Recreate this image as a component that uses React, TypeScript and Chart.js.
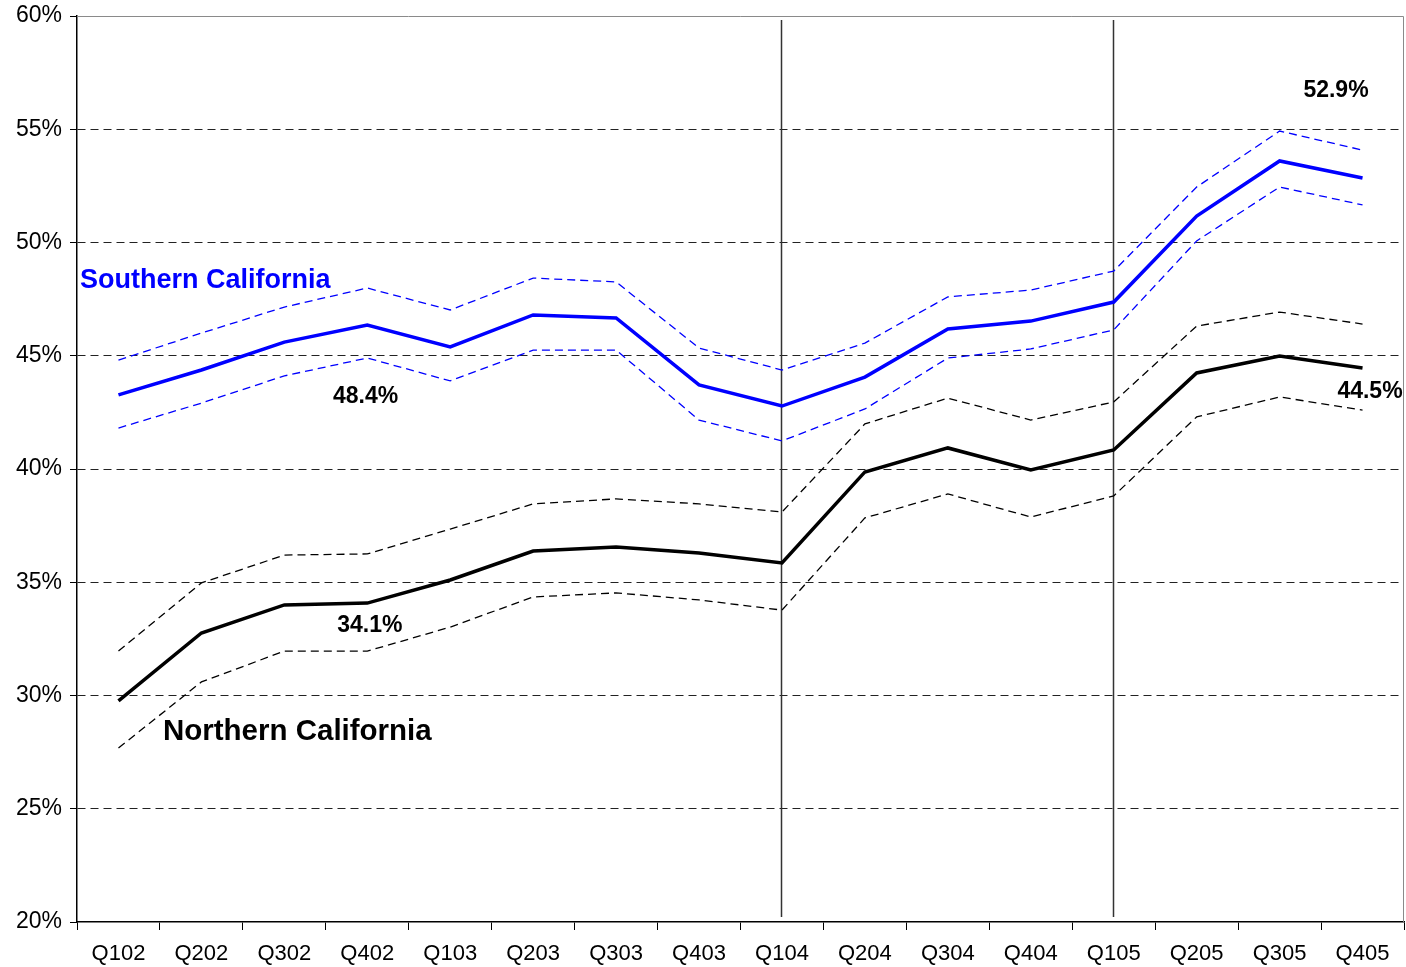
import React, { useEffect, useRef } from "react";
import { Chart, registerables } from "chart.js";

Chart.register(...registerables);

const categories = ["Q102", "Q202", "Q302", "Q402", "Q103", "Q203", "Q303", "Q403", "Q104", "Q204", "Q304", "Q404", "Q105", "Q205", "Q305", "Q405"];

const southern = [43.27, 44.37, 45.6, 46.36, 45.39, 46.8, 46.67, 43.71, 42.78, 44.06, 46.18, 46.53, 47.37, 51.17, 53.6, 52.85];
const southernUpper = [44.81, 46.0, 47.15, 47.99, 47.02, 48.43, 48.26, 45.34, 44.37, 45.56, 47.6, 47.9, 48.74, 52.45, 54.92, 54.08];
const southernLower = [41.81, 42.91, 44.11, 44.9, 43.89, 45.25, 45.25, 42.16, 41.24, 42.65, 44.9, 45.3, 46.14, 50.07, 52.45, 51.66];

const northern = [29.76, 32.76, 34.0, 34.08, 35.1, 36.38, 36.56, 36.29, 35.85, 39.87, 40.93, 39.96, 40.84, 44.24, 44.99, 44.46];
const northernUpper = [31.96, 34.97, 36.2, 36.25, 37.35, 38.46, 38.68, 38.46, 38.1, 41.99, 43.13, 42.16, 42.96, 46.31, 46.93, 46.4];
const northernLower = [27.68, 30.6, 31.96, 31.96, 33.02, 34.35, 34.53, 34.22, 33.77, 37.84, 38.9, 37.88, 38.81, 42.3, 43.18, 42.6];

const yMin = 20;
const yMax = 60;
const yStep = 5;

const dividerIndices = [8, 12];

const annotations = [
  { text: "Southern California", x: -0.464, y: 48.34, color: "#0000FF", size: 27, align: "left" },
  { text: "Northern California", x: 0.536, y: 28.39, color: "#000000", size: 29.5, align: "left" },
  { text: "48.4%", x: 2.98, y: 43.18, color: "#000000", size: 23, align: "center" },
  { text: "34.1%", x: 3.03, y: 33.07, color: "#000000", size: 23, align: "center" },
  { text: "52.9%", x: 14.68, y: 56.69, color: "#000000", size: 23, align: "center" },
  { text: "44.5%", x: 15.09, y: 43.4, color: "#000000", size: 23, align: "center" },
];

const FONT = "'Liberation Sans', Arial, sans-serif";

const overlayPlugin = {
  id: "overlay",
  beforeDatasetsDraw(chart: any) {
    const { ctx, chartArea, scales } = chart;
    ctx.save();
    ctx.strokeStyle = "#8a8a8a";
    ctx.lineWidth = 1;
    ctx.beginPath();
    ctx.moveTo(chartArea.left, chartArea.top + 0.5);
    ctx.lineTo(chartArea.right - 0.5, chartArea.top + 0.5);
    ctx.lineTo(chartArea.right - 0.5, chartArea.bottom);
    ctx.stroke();
    ctx.strokeStyle = "#333333";
    ctx.lineWidth = 1.5;
    dividerIndices.forEach((i) => {
      const x = Math.round(scales.x.getPixelForValue(i)) - 0.5;
      ctx.beginPath();
      ctx.moveTo(x, chartArea.top + 4);
      ctx.lineTo(x, chartArea.bottom - 5);
      ctx.stroke();
    });
    ctx.restore();
  },
  afterDatasetsDraw(chart: any) {
    const { ctx, scales } = chart;
    ctx.save();
    annotations.forEach((a) => {
      ctx.font = `bold ${a.size}px ${FONT}`;
      ctx.fillStyle = a.color;
      ctx.textAlign = a.align;
      ctx.textBaseline = "middle";
      ctx.fillText(a.text, scales.x.getPixelForValue(a.x), scales.y.getPixelForValue(a.y));
    });
    ctx.restore();
  },
};

export default function App() {
  const ref = useRef<HTMLCanvasElement | null>(null);

  useEffect(() => {
    document.body.style.margin = "0";
    const solid = (data: number[], color: string) => ({
      data,
      borderColor: color,
      backgroundColor: color,
      borderWidth: 3.5,
      pointRadius: 0,
      tension: 0,
      fill: false,
    });
    const dashed = (data: number[], color: string) => ({
      data,
      borderColor: color,
      backgroundColor: color,
      borderWidth: 1.3,
      borderDash: [8, 5],
      pointRadius: 0,
      tension: 0,
      fill: false,
    });
    const chart = new Chart(ref.current as HTMLCanvasElement, {
      type: "line",
      data: {
        labels: categories,
        datasets: [
          dashed(southernUpper, "#0000FF"),
          dashed(southernLower, "#0000FF"),
          dashed(northernUpper, "#000000"),
          dashed(northernLower, "#000000"),
          solid(southern, "#0000FF"),
          solid(northern, "#000000"),
        ] as any,
      },
      options: {
        animation: false,
        responsive: false,
        maintainAspectRatio: false,
        devicePixelRatio: 1,
        layout: { padding: { top: 16, right: 2, left: 0, bottom: 0 } },
        plugins: {
          legend: { display: false },
          tooltip: { enabled: false },
          title: { display: false },
        },
        scales: {
          x: {
            type: "category",
            offset: true,
            grid: {
              offset: true,
              drawOnChartArea: false,
              drawTicks: true,
              tickLength: 8,
              color: "#000",
              tickColor: "#000",
            },
            border: { display: true, color: "#000", width: 1.5 },
            ticks: {
              color: "#000",
              font: { family: FONT, size: 22 },
              padding: 11,
              maxRotation: 0,
              autoSkip: false,
            },
            afterFit: (s: any) => {
              s.height = 45;
              s.paddingLeft = 0;
              s.paddingRight = 0;
            },
          },
          y: {
            min: yMin,
            max: yMax,
            grid: {
              color: (c: any) => (c.tick && (c.tick.value === yMin || c.tick.value === yMax) ? "rgba(0,0,0,0)" : "#222"),
              lineWidth: 1,
              drawTicks: true,
              tickLength: 7,
              tickColor: "#000",
              tickBorderDash: [],
            } as any,
            border: { display: true, color: "#000", width: 1.5, dash: [8, 5] } as any,
            ticks: {
              stepSize: yStep,
              color: "#000",
              padding: 8,
              font: { family: FONT, size: 23 },
              callback: (v: any) => `${v}%`,
            },
            afterFit: (s: any) => {
              s.width = 77;
              s.paddingTop = 0;
              s.paddingBottom = 0;
            },
          },
        },
      },
      plugins: [overlayPlugin],
    });
    return () => chart.destroy();
  }, []);

  return (
    <div style={{ width: 1406, height: 967, background: "#fff" }}>
      <canvas ref={ref} width={1406} height={967} style={{ width: 1406, height: 967, display: "block" }} />
    </div>
  );
}
